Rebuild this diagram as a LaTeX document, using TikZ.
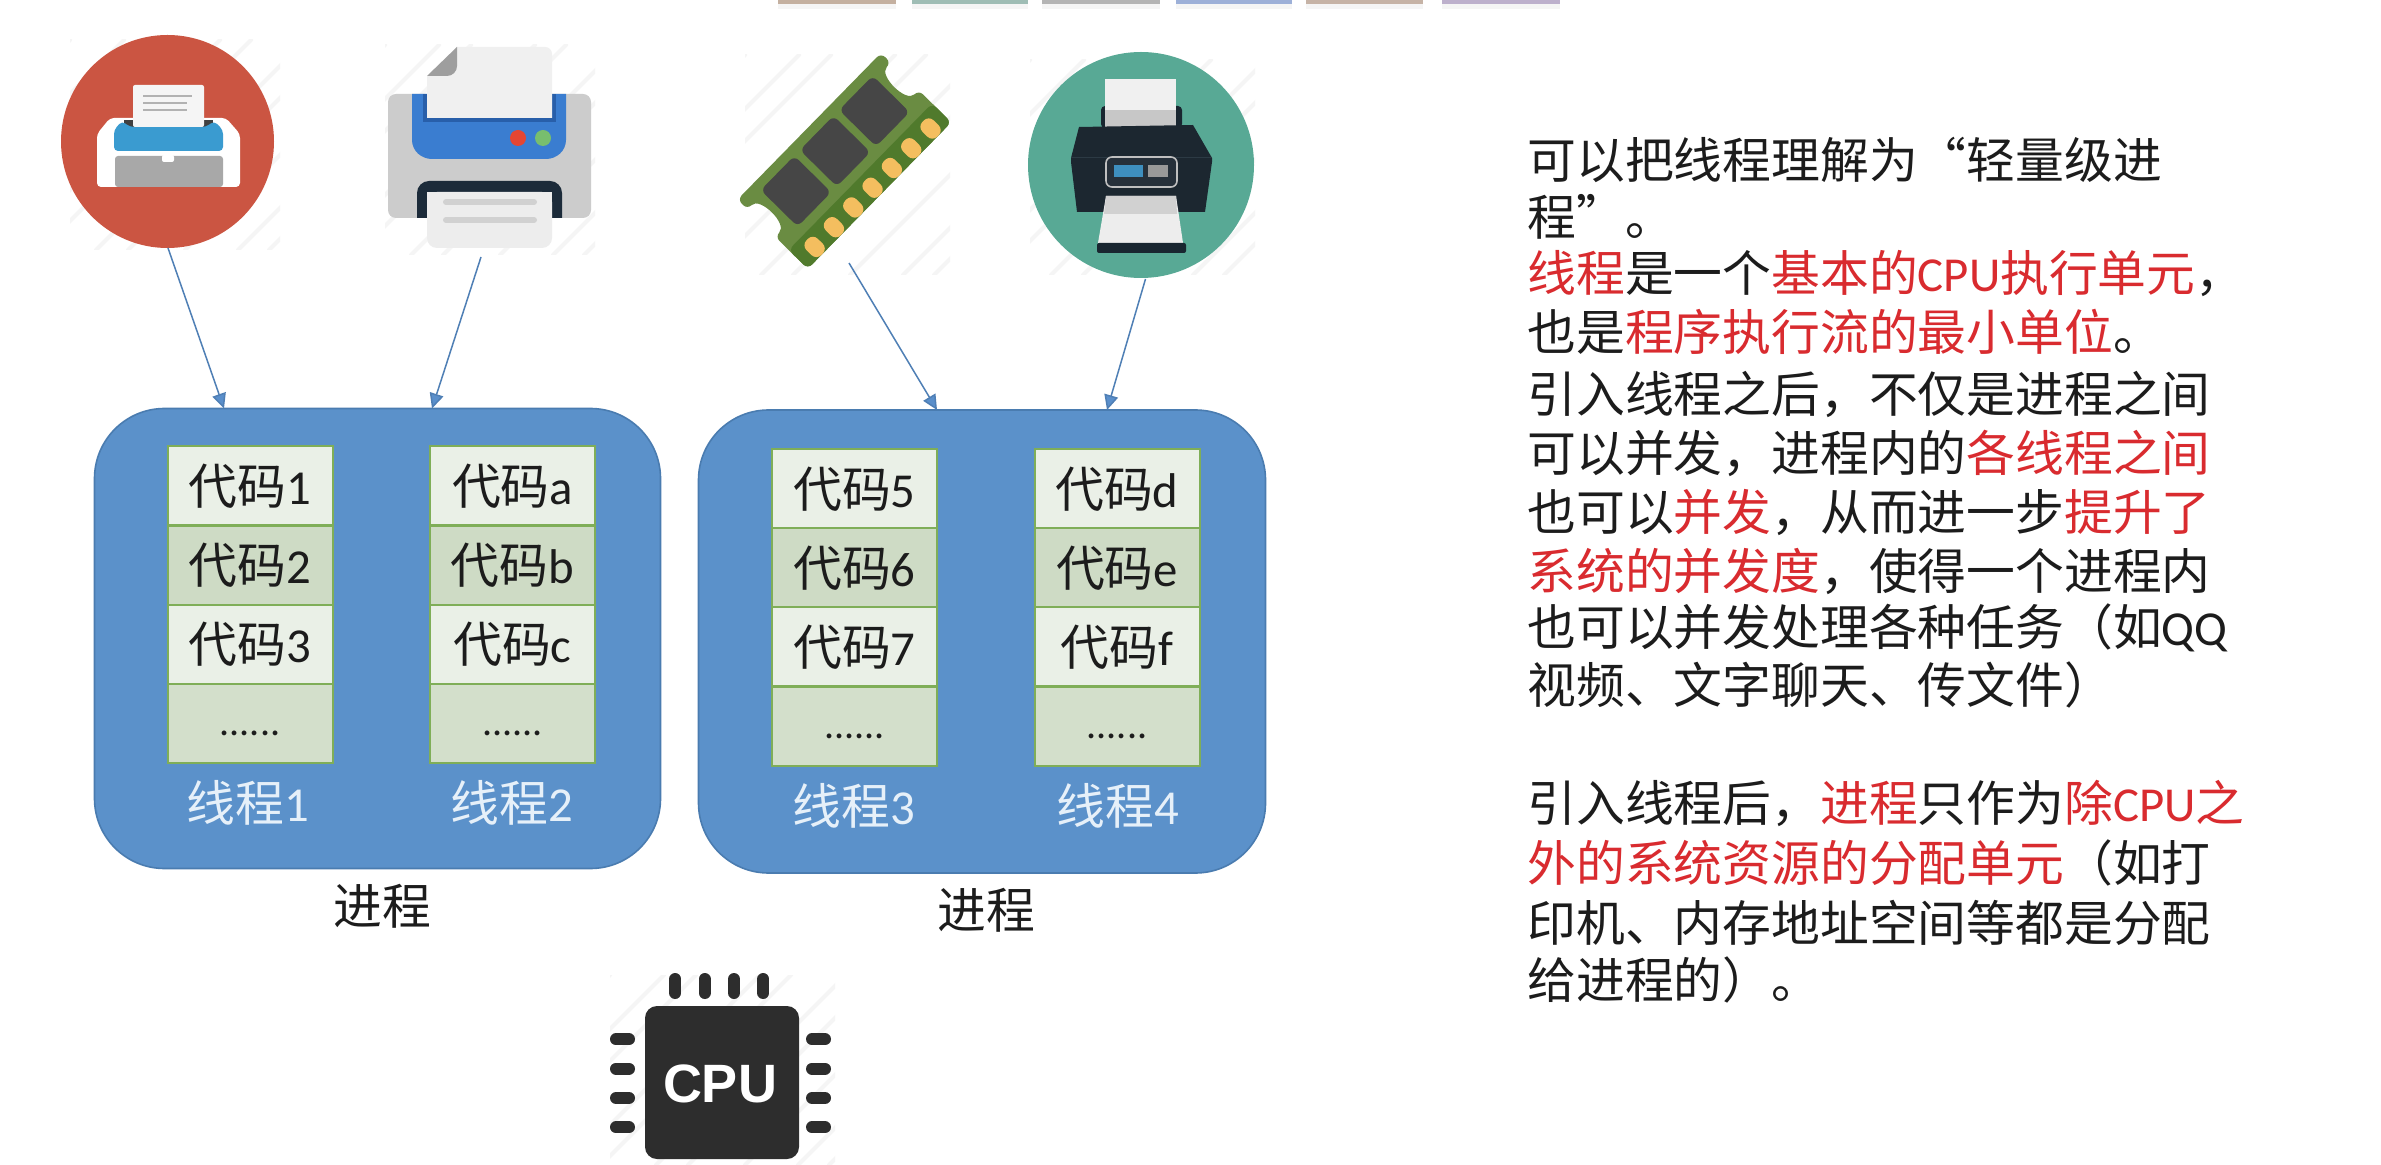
\documentclass[tikz,border=0pt]{standalone}
\usepackage{fontspec}
\setmainfont{Noto Sans CJK SC}
\newfontfamily\latnf{Carlito}
\newfontfamily\cpuf{Liberation Sans}[BoldFont={Liberation Sans Bold}]
\usetikzlibrary{arrows.meta,calc}
\definecolor{ink}{HTML}{1C1C1C}
\definecolor{hotred}{HTML}{D92B2F}
\definecolor{procblue}{HTML}{5B91CA}
\definecolor{procedge}{HTML}{4A7CB0}
\definecolor{rowlight}{HTML}{EAF0E7}
\definecolor{rowdark}{HTML}{CEDBC5}
\definecolor{rowlast}{HTML}{D3DFCB}
\definecolor{rowedge}{HTML}{7FAE58}
\definecolor{labelwhite}{HTML}{E6F0F9}
\definecolor{arrowblue}{HTML}{4F7FB5}
\definecolor{tipblue}{HTML}{5A8FCB}
\definecolor{iconred}{HTML}{CB5542}
\definecolor{iconteal}{HTML}{58A995}
\definecolor{cpudark}{HTML}{2D2D2D}
\definecolor{bandblue}{HTML}{3A9BD0}
\definecolor{pblue}{HTML}{3A7DD0}
\definecolor{pbluedark}{HTML}{285FAA}
\definecolor{lampred}{HTML}{E44632}
\definecolor{lampgreen}{HTML}{78BE6E}
\definecolor{slotdark}{HTML}{1C2B3A}
\definecolor{ramgreen}{HTML}{6A8C42}
\definecolor{ramdark}{HTML}{507A2C}
\definecolor{gold}{HTML}{F4BE5F}
\definecolor{chipgrey}{HTML}{464646}
\definecolor{tealtray}{HTML}{192630}
\definecolor{tealbody}{HTML}{1C2730}
\definecolor{tealedge}{HTML}{2C3A44}
\definecolor{panel}{HTML}{26303A}
\definecolor{screenblue}{HTML}{3E8FBF}
\newcommand\latn[1]{{\latnf #1}}
\newcommand\hot[1]{\textcolor{hotred}{#1}}
\tikzset{
  x=0.5pt,y=-0.5pt,
  bodyfont/.style={inner sep=0pt,font=\fontsize{24.4}{29}\selectfont,text height=21.5pt,text depth=2.9pt},
  process/.style={draw=procedge,line width=0.8pt,fill=procblue,rounded corners=35pt},
  coderow/.style={draw=rowedge,line width=1pt,minimum width=82.5pt,minimum height=39.5pt,text=ink,bodyfont},
  dotrow/.style={draw=rowedge,line width=1pt,minimum width=82.5pt,minimum height=39.5pt,text=ink,inner sep=0pt,
    font=\fontsize{20}{24}\selectfont,text height=12pt,text depth=0pt},
  threadlabel/.style={text=labelwhite,bodyfont},
  proclabel/.style={text=ink,bodyfont},
  noteline/.style={anchor=west,text=ink,bodyfont},
  link/.style={draw=arrowblue,line width=0.75pt,-{Triangle[length=7.5pt,width=7pt,fill=tipblue]}},
  streak/.style={draw=black!4,line width=2pt,line cap=round},
  pin/.style={cpudark,line width=6pt,line cap=round},
}
\newcommand\codestack[8]{%
  \node[coderow,fill=rowlight] (#1a) at (#2,{#3}) {代码\latn{#4}};
  \node[coderow,fill=rowdark] (#1b) at (#2,{#3+79.2}) {代码\latn{#5}};
  \node[coderow,fill=rowlight] (#1c) at (#2,{#3+158.3}) {代码\latn{#6}};
  \node[dotrow,fill=rowlast] (#1d) at (#2,{#3+237.6}) {\latn{......}};
  \node[threadlabel] (#1t) at (#7,#8) {线程\latn{\csname thr#1\endcsname}};
}
\newcommand\streaks[4]{%
  \begin{scope}
  \clip (#1,#2) rectangle (#3,#4);
  \foreach \s/\off in {0/0,1/8,2/-6,3/12,4/-3,5/6,6/-8,7/3,8/10,9/-5,10/0,11/7}{
    \pgfmathsetmacro\xa{#1-(#4-#2)+\s*46+\off}
    \pgfmathsetmacro\xb{\xa+(#4-#2)}
    \draw[streak] (\xa,#4) -- (\xb,#2);
  }
  \end{scope}
}
\expandafter\def\csname thrA\endcsname{1}
\expandafter\def\csname thrB\endcsname{2}
\expandafter\def\csname thrC\endcsname{3}
\expandafter\def\csname thrD\endcsname{4}
\begin{document}
\begin{tikzpicture}
\useasboundingbox (0,0) rectangle (2381,1165);
\fill[white] (0,0) rectangle (2381,1165);

% top strip
\foreach \xa/\xb/\c in {778/896/C4B0A0,912/1028/9FBDB5,1042/1160/B4B4B4,1176/1292/9DB0D8,1306/1423/C6B3A6,1442/1560/BDB0CC}{
  \definecolor{tmpc}{HTML}{\c}
  \fill[black!4] (\xa,0) rectangle (\xb,9);
  \fill[tmpc] (\xa,0) rectangle (\xb,4);
}

% faint streaks
\streaks{70}{40}{280}{250}
\streaks{385}{45}{595}{255}
\streaks{745}{55}{950}{275}
\streaks{1030}{60}{1255}{275}
\streaks{610}{975}{835}{1165}

% red printer icon
\node[circle,fill=iconred,minimum size=106.5pt,inner sep=0pt] (redicon) at (167.5,141.5) {};
\fill[white,rounded corners=2pt] (97,187) -- (97,134) -- (110,118) -- (226,118) -- (240,134) -- (240,187) -- cycle;
\fill[black!75] (124,120) rectangle (213,130);
\fill[bandblue,rounded corners=2pt] (114,151) -- (114,130) -- (122,121) -- (130,127) -- (206,127) -- (214,121) -- (223,130) -- (223,151) -- cycle;
\fill[black!4,rounded corners=1pt] (133,127) -- (133,85) -- (204,85) -- (204,127) -- cycle;
\foreach \yy/\xe in {96/192,103/187,110/187}{\draw[black!30,line width=0.6pt] (143,\yy) -- (\xe,\yy);}
\fill[black!34,rounded corners=1.5pt] (115,187) -- (115,156) -- (223,156) -- (223,187) -- cycle;
\fill[white,rounded corners=1pt] (162,155) rectangle (174,162);

% blue printer icon
\node[inner sep=0pt,minimum width=101.5pt,minimum height=100pt] (blueicon) at (489,148) {};
\fill[black!20,rounded corners=4pt] (388,94) rectangle (591,218);
\fill[pblue] (412,94) -- (566,94) -- (566,140) to[out=-90,in=0] (546,159) -- (432,159) to[out=180,in=-90] (412,140) -- cycle;
\fill[pbluedark] (423,94) rectangle (556,122);
\fill[black!6] (427,76) -- (457,47) -- (545,47) to[out=0,in=90] (552,54) -- (552,118) -- (427,118) -- cycle;
\fill[black!38] (427,76) -- (457,47) -- (457,66) to[out=-90,in=0] (447,76) -- cycle;
\fill[lampred] (518,138) circle (4pt);
\fill[lampgreen] (543,138) circle (4pt);
\begin{scope}
\clip (400,170) rectangle (580,218);
\fill[slotdark,rounded corners=6pt] (417,235) -- (417,181) -- (562,181) -- (562,235) -- cycle;
\end{scope}
\fill[black!7,rounded corners=5pt] (427,192) -- (552,192) -- (552,248) -- (427,248) -- cycle;
\fill[black!7] (427,192) rectangle (552,210);
\draw[black!18,line width=3pt,line cap=round] (446,202) -- (534,202);
\draw[black!18,line width=3pt,line cap=round] (446,220) -- (534,220);

% memory module icon
\node[inner sep=0pt,minimum width=103pt,minimum height=104pt] (ramicon) at (846,158) {};
\begin{scope}[shift={(881,53)},x={(-0.35pt,-0.3575pt)},y={(0.355pt,-0.35pt)}]
  \fill[ramgreen,rounded corners=3pt]
    (0,0) -- (0,14) .. controls (18,14) and (18,53) .. (0,53) -- (0,99) -- (205,99) -- (205,53) .. controls (187,53) and (187,14) .. (205,14) -- (205,0) -- cycle;
  \fill[ramdark,rounded corners=3pt] (0,72) -- (0,99) -- (205,99) -- (205,72) -- cycle;
  \foreach \u in {46,102,158}{
    \fill[chipgrey,rounded corners=3pt] ({\u-24},10) -- ({\u+24},10) -- ({\u+24},62) -- ({\u-24},62) -- cycle;
  }
  \foreach \i in {0,...,6}{
    \pgfmathsetmacro\uu{19+27.6*\i}
    \fill[gold,rounded corners=3.5pt] ({\uu-8},78) -- ({\uu+8},78) -- ({\uu+8},99) -- ({\uu-8},99) -- cycle;
  }
\end{scope}

% teal printer icon
\node[circle,fill=iconteal,minimum size=113pt,inner sep=0pt] (tealicon) at (1141,165) {};
\fill[tealtray,rounded corners=2pt] (1101,128) -- (1101,106) -- (1182,106) -- (1182,128) -- cycle;
\fill[black!6] (1105,79) rectangle (1176,122);
\fill[black!22] (1105,110) rectangle (1176,128);
\fill[tealbody] (1079,127) -- (1193,125) -- (1212,158) -- (1212,162) -- (1205,212) -- (1077,212) -- (1071,162) -- (1071,158) -- cycle;
\draw[tealedge,line width=0.5pt] (1071,158) -- (1212,158);
\draw[black!25,line width=0.8pt,fill=panel,rounded corners=3pt] (1106,157) rectangle (1177,187);
\fill[screenblue] (1114,165) rectangle (1143,177);
\fill[black!40] (1148,165) rectangle (1168,177);
\fill[black!7] (1106,196) -- (1176,196) -- (1183,243) -- (1098,243) -- cycle;
\fill[black!18] (1106,196) -- (1176,196) -- (1177,214) -- (1104,214) -- cycle;
\fill[tealtray,rounded corners=1pt] (1097,243) rectangle (1186,253);

% processes
\node[process,minimum width=283pt,minimum height=230pt,inner sep=0pt] (procA) at (377.5,638.5) {};
\node[process,minimum width=283.5pt,minimum height=231.5pt,inner sep=0pt] (procB) at (982,641.5) {};

\codestack{A}{250}{486}{1}{2}{3}{248}{803}
\codestack{B}{512.5}{486}{a}{b}{c}{512}{803}
\codestack{C}{854.5}{488.5}{5}{6}{7}{854}{806}
\codestack{D}{1117}{488.5}{d}{e}{f}{1118}{806}

\node[proclabel] (labelA) at (382,906) {进程};
\node[proclabel] (labelB) at (986,910) {进程};

% connectors
\coordinate (outA) at (168,248);
\coordinate (outB) at (481,257);
\coordinate (outC) at (849,263);
\coordinate (outD) at (1145.5,279);
\coordinate (inA) at (224,408.5);
\coordinate (inB) at (432,408.5);
\coordinate (inC) at (937,410);
\coordinate (inD) at (1107,410);
\draw[link] (outA) -- (inA);
\draw[link] (outB) -- (inB);
\draw[link] (outC) -- (inC);
\draw[link] (outD) -- (inD);

% CPU icon
\node[fill=cpudark,rounded corners=6pt,minimum width=77pt,minimum height=76.5pt,inner sep=0pt] (cpu) at (722,1082.5) {};
\node[text=white,inner sep=0pt,font=\cpuf\bfseries\fontsize{27}{30}\selectfont] (cputext) at (720,1084) {CPU};
\foreach \xx in {675.3,704.7,734,763.3}{ \draw[pin] (\xx,979) -- (\xx,993); }
\foreach \yy in {1039.3,1068.7,1098,1127.3}{
  \draw[pin] (616,\yy) -- (629,\yy);
  \draw[pin] (812,\yy) -- (825,\yy);
}

% notes
\node[noteline] (n01) at (1527,160) {可以把线程理解为“轻量级进};
\node[noteline] (n02) at (1527,217) {程”。};
\node[noteline] (n03) at (1527,273) {\hot{线程}是一个\hot{基本的\latn{CPU}执行单元}，};
\node[noteline] (n04) at (1527,332) {也是\hot{程序执行流的最小单位}。};
\node[noteline] (n05) at (1527,394) {引入线程之后，不仅是进程之间};
\node[noteline] (n06) at (1527,453) {可以并发，进程内的\hot{各线程之间}};
\node[noteline] (n07) at (1527,512) {也可以\hot{并发}，从而进一步\hot{提升了}};
\node[noteline] (n08) at (1527,571) {\hot{系统的并发度}，使得一个进程内};
\node[noteline] (n09) at (1527,627) {也可以并发处理各种任务（如\latn{QQ}};
\node[noteline] (n10) at (1527,685) {视频、文字聊天、传文件）};
\node[noteline] (n11) at (1527,803) {引入线程后，\hot{进程}只作为\hot{除\latn{CPU}之}};
\node[noteline] (n12) at (1527,863) {\hot{外的系统资源的分配单元}（如打};
\node[noteline] (n13) at (1527,923) {印机、内存地址空间等都是分配};
\node[noteline] (n14) at (1527,980) {给进程的）。};
\end{tikzpicture}
\end{document}
